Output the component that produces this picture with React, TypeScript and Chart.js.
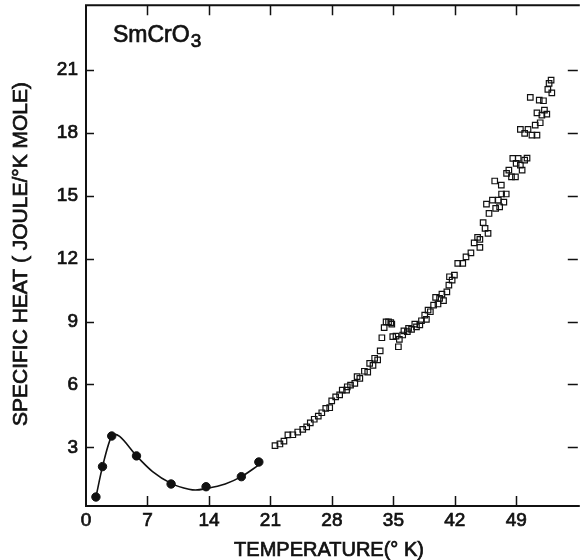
import React, { useEffect, useRef } from "react";
import { Chart, registerables } from "chart.js";

Chart.register(...registerables);

// Low-temperature measured points (filled circles)
const lowT = [1.13, 1.88, 2.93, 5.75, 9.69, 13.67, 17.69, 19.68];
const lowC = [0.63, 2.08, 3.54, 2.59, 1.25, 1.12, 1.6, 2.3];

// Drawn-through curve for the low-temperature points
const curveT = [1.13, 1.88, 2.93, 3.27, 3.83, 5.75, 7.58, 9.69, 11.72, 12.47, 13.67, 15.85, 17.69, 19.68];
const curveC = [0.63, 2.08, 3.54, 3.62, 3.52, 2.59, 1.84, 1.28, 1.0, 0.96, 1.03, 1.25, 1.6, 2.16];

// High-temperature measured points (open squares)
const highT = [
  21.52, 22.08, 22.54, 22.99, 23.55, 24.11, 24.68, 25.13, 25.54, 25.99,
  26.45, 26.85, 27.3, 27.75, 27.98, 28.43, 28.88, 29.18, 29.67, 29.75,
  30.12, 30.61, 30.87, 31.18, 31.7, 32.08, 32.3, 32.68, 32.87, 33.21,
  33.5, 33.69, 33.95, 34.17, 34.45, 34.7, 34.82, 34.93, 35.3, 35.57,
  35.68, 36.06, 36.2, 36.59, 36.73, 37.07, 37.44, 37.63, 38.01, 38.2,
  38.57, 38.76, 38.95, 39.21, 39.58, 39.81, 40.08, 40.26, 40.53, 40.71,
  41.09, 41.32, 41.69, 41.39, 41.95, 42.33, 42.9, 43.27, 43.83, 44.2,
  44.59, 44.85, 44.85, 45.22, 45.44, 45.78, 45.6, 45.89, 46.28, 46.65,
  46.95, 47.1, 47.58, 47.32, 47.85, 46.54, 47.29, 47.89, 48.15, 48.45,
  48.9, 48.98, 48.6, 49.21, 49.46, 49.66, 49.95, 50.22, 49.46, 49.95,
  50.33, 50.78, 51.35, 51.15, 51.72, 51.35, 51.91, 52.2, 52.47, 50.59,
  51.61, 52.09, 52.59, 53.04, 52.73, 52.96,
];
const highC = [
  3.08, 3.16, 3.3, 3.59, 3.6, 3.73, 3.86, 3.98, 4.17, 4.34,
  4.49, 4.65, 4.86, 4.89, 5.22, 5.41, 5.5, 5.73, 5.73, 5.89,
  5.97, 6.05, 6.37, 6.29, 6.63, 6.59, 7.01, 6.91, 7.25, 7.17,
  7.6, 8.23, 8.71, 8.99, 8.99, 8.95, 8.88, 8.28, 8.31, 7.8,
  8.15, 8.36, 8.56, 8.52, 8.68, 8.63, 8.88, 8.75, 8.84, 9.04,
  9.31, 9.11, 9.55, 9.47, 9.79, 10.16, 9.84, 10.11, 10.31, 10.0,
  10.42, 10.74, 10.98, 11.14, 11.22, 11.78, 11.78, 12.09, 12.28, 12.76,
  13.02, 12.92, 12.54, 13.72, 13.45, 13.21, 14.61, 14.16, 14.8, 14.4,
  14.8, 14.48, 14.7, 15.09, 15.09, 15.71, 15.51, 16.07, 16.23, 15.91,
  15.91, 16.55, 16.79, 16.79, 16.47, 16.23, 16.71, 16.8, 18.17, 17.98,
  18.17, 17.9, 17.9, 18.38, 18.49, 18.96, 18.85, 19.09, 18.9, 19.7,
  19.57, 19.54, 20.08, 19.92, 20.37, 20.52,
];

const xTickValues = [0, 7, 14, 21, 28, 35, 42, 49];
const yTickValues = [3, 6, 9, 12, 15, 18, 21];

const xTitle = "TEMPERATURE(° K)";
const yTitle = "SPECIFIC HEAT ( JOULE/°K MOLE)";
const sampleName = "SmCrO";
const sampleSub = "3";

const FONT = "'Liberation Sans', Arial, sans-serif";
const INK = "#111";

function strokeFill(ctx: any, text: string, x: number, y: number) {
  ctx.lineWidth = 0.7;
  ctx.strokeStyle = INK;
  ctx.strokeText(text, x, y);
  ctx.fillText(text, x, y);
}

const framePlugin = {
  id: "frame",
  afterDraw(chart: any) {
    const { ctx, chartArea, scales } = chart;
    const { left, right, top, bottom } = chartArea;
    const xs = scales.x;
    const ys = scales.y;
    ctx.save();
    ctx.strokeStyle = INK;
    ctx.lineWidth = 2;
    ctx.beginPath();
    ctx.moveTo(right + 2, top);
    ctx.lineTo(left, top);
    ctx.lineTo(left, bottom);
    ctx.lineTo(right + 2, bottom);
    ctx.stroke();
    ctx.lineWidth = 1.5;
    ctx.beginPath();
    for (const v of xTickValues) {
      if (v === 0) continue;
      const px = Math.round(xs.getPixelForValue(v)) + 0.5;
      ctx.moveTo(px, bottom);
      ctx.lineTo(px, bottom - 10);
      ctx.moveTo(px, top);
      ctx.lineTo(px, top + 10);
    }
    for (const v of yTickValues) {
      const py = Math.round(ys.getPixelForValue(v)) + 0.5;
      ctx.moveTo(left, py);
      ctx.lineTo(left + 8, py);
      ctx.moveTo(right, py);
      ctx.lineTo(right - 10, py);
    }
    ctx.stroke();

    ctx.fillStyle = INK;
    // x title
    ctx.font = `20px ${FONT}`;
    ctx.textAlign = "center";
    ctx.textBaseline = "alphabetic";
    strokeFill(ctx, xTitle, 329, 556);
    // y title
    ctx.save();
    ctx.translate(27, 254);
    ctx.rotate(-Math.PI / 2);
    ctx.font = `21px ${FONT}`;
    strokeFill(ctx, yTitle, 0, 0);
    ctx.restore();
    // sample label
    ctx.textAlign = "left";
    ctx.font = `23px ${FONT}`;
    strokeFill(ctx, sampleName, 113, 42);
    const w = ctx.measureText(sampleName).width;
    ctx.font = `19px ${FONT}`;
    strokeFill(ctx, sampleSub, 113 + w + 1, 47);
    ctx.restore();
  },
};

export default function App() {
  const ref = useRef<HTMLCanvasElement | null>(null);
  useEffect(() => {
    if (!ref.current) return;
    const chart = new Chart(ref.current, {
      type: "scatter",
      data: {
        datasets: [
          {
            label: "fit",
            data: curveT.map((t, i) => ({ x: t, y: curveC[i] })),
            showLine: true,
            borderColor: INK,
            borderWidth: 1.6,
            pointRadius: 0,
            cubicInterpolationMode: "monotone",
          } as any,
          {
            label: "low",
            data: lowT.map((t, i) => ({ x: t, y: lowC[i] })),
            pointStyle: "circle",
            pointRadius: 4.2,
            backgroundColor: INK,
            borderColor: INK,
            borderWidth: 1,
          },
          {
            label: "high",
            data: highT.map((t, i) => ({ x: t, y: highC[i] })),
            pointStyle: "rect",
            pointRadius: 3.9,
            backgroundColor: "rgba(255,255,255,0)",
            borderColor: INK,
            borderWidth: 1.2,
          },
        ],
      },
      options: {
        animation: false,
        responsive: false,
        maintainAspectRatio: false,
        layout: { padding: { top: 5, right: 0, left: 0, bottom: 0 } },
        plugins: { legend: { display: false }, tooltip: { enabled: false } },
        scales: {
          x: {
            type: "linear",
            min: 0,
            max: 56,
            grid: { display: false, drawTicks: false },
            border: { display: false },
            afterFit: (s: any) => {
              s.height = 54;
              s.paddingLeft = 0;
              s.paddingRight = 0;
            },
            afterBuildTicks: (s: any) => {
              s.ticks = xTickValues.map((v) => ({ value: v }));
            },
            ticks: {
              color: INK,
              padding: 3,
              maxRotation: 0,
              autoSkip: false,
              textStrokeColor: INK,
              textStrokeWidth: 0.7,
              font: { family: FONT, size: 19 },
            },
          },
          y: {
            type: "linear",
            min: 0.2,
            max: 24.1,
            grid: { display: false, drawTicks: false },
            border: { display: false },
            afterFit: (s: any) => {
              s.width = 86;
              s.paddingTop = 0;
              s.paddingBottom = 0;
            },
            afterBuildTicks: (s: any) => {
              s.ticks = yTickValues.map((v) => ({ value: v }));
            },
            ticks: {
              color: INK,
              padding: 8,
              autoSkip: false,
              textStrokeColor: INK,
              textStrokeWidth: 0.7,
              font: { family: FONT, size: 19 },
            },
          },
        },
      },
      plugins: [framePlugin],
    });
    return () => chart.destroy();
  }, []);
  return (
    <div style={{ position: "fixed", left: 0, top: 0, width: 583, height: 560, background: "#fff" }}>
      <canvas ref={ref} width={583} height={560} style={{ display: "block" }} />
    </div>
  );
}
